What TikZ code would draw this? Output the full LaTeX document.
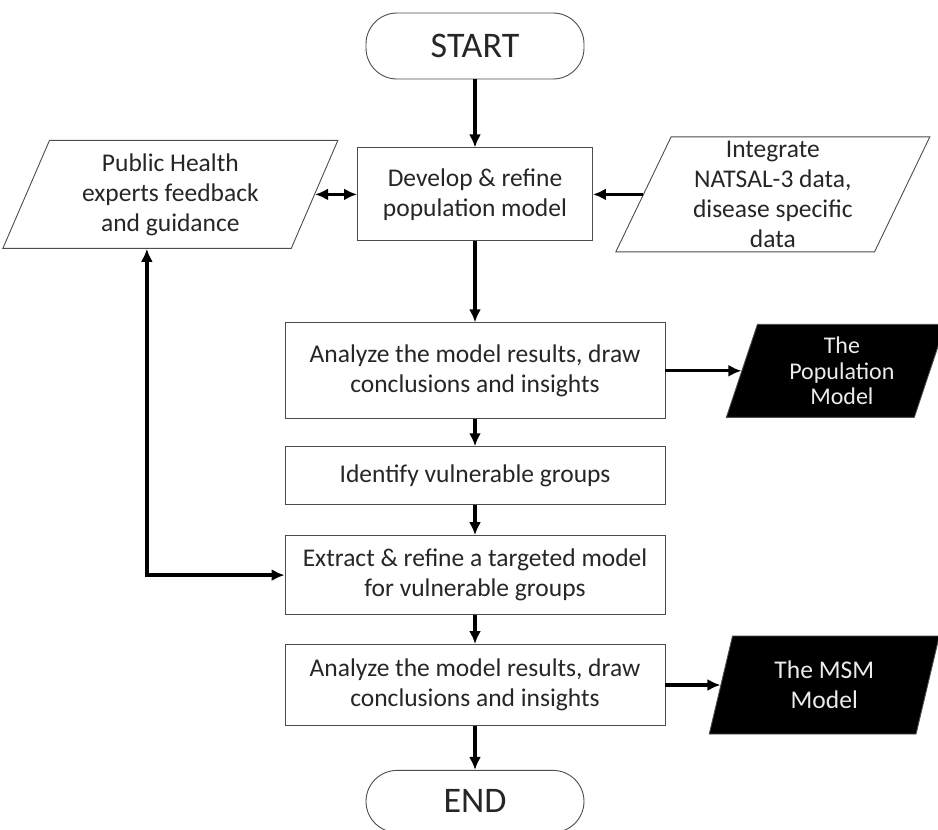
\documentclass[tikz,border=0pt]{standalone}
\usepackage{fontspec}
\setmainfont{Carlito}
\usetikzlibrary{shapes.geometric, arrows.meta, positioning}

\begin{document}
\begin{tikzpicture}[
        x=1pt, y=-1pt,
        >={Latex[length=13pt,width=12pt]},
        base/.style={font=\fontsize{25.5}{30}\selectfont, align=center, text=black!85},
        block/.style={base, rectangle, draw=black!70, line width=0.9pt, minimum width=380pt, inner sep=2pt},
        terminal/.style={base, rectangle, draw=black!70, line width=0.9pt, rounded corners=31pt, minimum width=218pt, minimum height=66pt, font=\fontsize{36}{40}\selectfont},
        io/.style={base, trapezium, trapezium stretches body, draw=black!70, line width=0.9pt, inner sep=1pt},
        output/.style={io, fill=black, text=white!92!black},
        line/.style={draw, line width=3.3pt, ->}
    ]

    \useasboundingbox (0,0) rectangle (938,830);

    % Main column
    \node[terminal] (start) at (475,46) {START};
    \node[block, minimum width=235pt, minimum height=93pt, below=68pt of start] (develop) {Develop \& refine\\population model};
    \node[block, minimum height=96pt, below=81pt of develop] (analyze1) {Analyze the model results, draw\\conclusions and insights};
    \node[block, minimum height=58pt, below=27pt of analyze1] (identify) {Identify vulnerable groups};
    \node[block, minimum height=79pt, below=30pt of identify] (extract) {Extract \& refine a targeted model\\for vulnerable groups};
    \node[block, minimum height=81pt, below=29pt of extract] (analyze2) {Analyze the model results, draw\\conclusions and insights};
    \node[terminal, minimum height=62pt, below=44pt of analyze2] (end) {END};

    % Inputs and outputs
    \node[io, trapezium left angle=61, trapezium right angle=119, minimum width=335pt, minimum height=108pt, left=42pt of develop] (health) {Public Health\\experts feedback\\and guidance};
    \node[io, trapezium left angle=63, trapezium right angle=117, minimum width=314pt, minimum height=115pt, right=50pt of develop] (integrate) {Integrate\\NATSAL-3 data,\\disease specific\\data};
    \node[output, trapezium left angle=66, trapezium right angle=114, minimum width=219pt, minimum height=93pt, font=\fontsize{24}{25.5}\selectfont, right=76pt of analyze1] (popmodel) {\hspace*{12pt}The\\\hspace*{12pt}Population\\\hspace*{12pt}Model};
    \node[output, trapezium left angle=65, trapezium right angle=115, minimum width=230pt, minimum height=98pt, right=55pt of analyze2] (msmmodel) {The MSM\\Model};

    % Connections
    \path [line] (start) -- (develop);
    \path [line] (develop) -- (analyze1);
    \path [line] (analyze1) -- (identify);
    \path [line] (identify) -- (extract);
    \path [line] (extract) -- (analyze2);
    \path [line] (analyze2) -- (end);
    \path [line, <->] (health.east) -- (develop.west);
    \path [line] (integrate.west) -- (develop.east);
    \path [line] (analyze1.east) -- (popmodel.west);
    \path [line] (analyze2.east) -- (msmmodel.west);
    \path [line, <->] (health.bottom side) |- (extract.west);

\end{tikzpicture}
\end{document}
